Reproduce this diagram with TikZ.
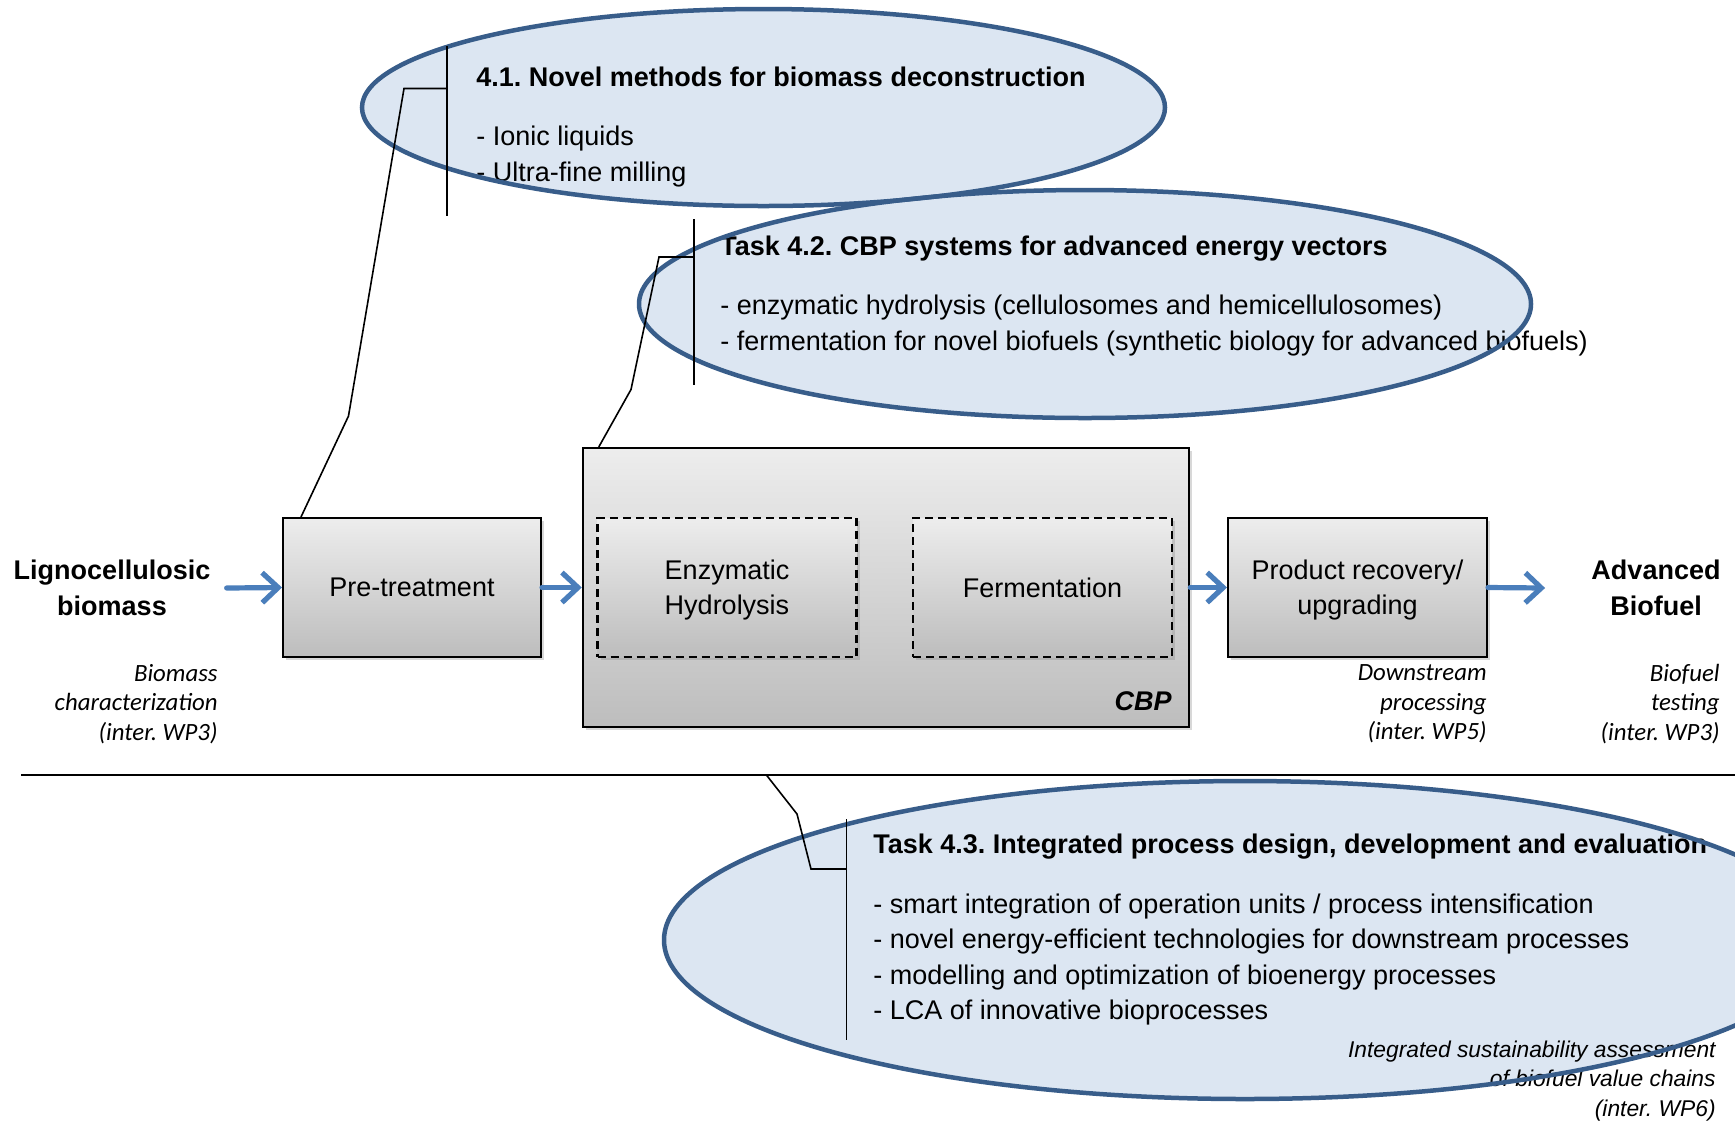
\documentclass[tikz,border=0pt]{standalone}
\usepackage{fontspec}
\setmainfont{Liberation Sans}
\newfontfamily\carl{Carlito}
\usetikzlibrary{arrows.meta,shadows}
\definecolor{ellfill}{HTML}{DCE6F2}
\definecolor{ellline}{HTML}{385D8A}
\definecolor{arrblue}{HTML}{4A7EBB}
\definecolor{boxtop}{HTML}{EDEDED}
\definecolor{boxbot}{HTML}{BDBDBD}
\begin{document}
\frenchspacing
\begin{tikzpicture}[x=0.5pt,y=-0.5pt,
  txt/.style={font=\fontsize{13.5}{17.7}\selectfont, inner sep=0pt},
  ttl/.style={inner sep=0pt, font=\fontsize{13.5}{17.7}\selectfont\bfseries, anchor=base west},
  item/.style={txt, anchor=base west},
  endpt/.style={inner sep=0pt, font=\fontsize{13.5}{17.7}\selectfont\bfseries, align=center},
  note/.style={font=\carl\itshape\fontsize{12.4}{14.75}\selectfont, inner sep=0pt, align=right, anchor=east},
  notewide/.style={font=\itshape\fontsize{11.4}{14.75}\selectfont, inner sep=0pt, align=right, anchor=east},
  procbox/.style={txt, draw=black, line width=1pt, top color=boxtop, bottom color=boxbot,
    drop shadow={opacity=0.3, shadow xshift=1.5pt, shadow yshift=-1.5pt}, align=center, text depth=0pt},
  subbox/.style={procbox, line width=1.1pt, dash pattern=on 4pt off 2.5pt},
  arr/.style={draw=arrblue, line width=2.6pt, -{Straight Barb[length=8pt,width=15pt]}, line cap=round},
  callout/.style={draw=black, line width=0.8pt},
  ellf/.style={fill=ellfill},
  elld/.style={draw=ellline, line width=2.25pt}
]
\useasboundingbox (0,0) rectangle (1735,1121);
\fill[white] (0,0) rectangle (1735,1121);
\clip (0,0) rectangle (1735,1121);

% ellipse fills
\fill[ellf] (763.5,107.5) ellipse [x radius=401.5, y radius=98.5];
\fill[ellf] (1085,304) ellipse [x radius=446, y radius=114];
\fill[ellf] (1245,940) ellipse [x radius=581, y radius=159];

% ellipse texts
\node[ttl] (t41) at (476,86) {4.1. Novel methods for biomass deconstruction};
\node[item] (t41a) at (476,145) {- Ionic liquids};
\node[item] (t41b) at (476,181) {- Ultra-fine milling};

\node[ttl] (t42) at (720,255) {Task 4.2. CBP systems for advanced energy vectors};
\node[item] (t42a) at (720,314) {- enzymatic hydrolysis (cellulosomes and hemicellulosomes)};
\node[item] (t42b) at (720,350) {- fermentation for novel biofuels (synthetic biology for advanced biofuels)};

\node[ttl] (t43) at (873,853) {Task 4.3. Integrated process design, development and evaluation};
\node[item] (t43a) at (873,913) {- smart integration of operation units / process intensification};
\node[item] (t43b) at (873,948) {- novel energy-efficient technologies for downstream processes};
\node[item] (t43c) at (873,984) {- modelling and optimization of bioenergy processes};
\node[item] (t43d) at (873,1019) {- LCA of innovative bioprocesses};
\node[notewide] (isa) at (1716,1081) {Integrated sustainability assessment\\of biofuel value chains\\(inter. WP6)};

% ellipse borders
\draw[elld] (763.5,107.5) ellipse [x radius=401.5, y radius=98.5];
\draw[elld] (1085,304) ellipse [x radius=446, y radius=114];
\draw[elld] (1245,940) ellipse [x radius=581, y radius=159];

% process chain
\node[endpt] (lig) at (112,588) {Lignocellulosic\\biomass};
\node[procbox, minimum width=129pt, minimum height=69.5pt] (pre) at (412,587.5) {Pre-treatment};
\node[procbox, minimum width=303.25pt, minimum height=139.5pt] (cbp) at (886,587.5) {};
\node[subbox, minimum width=129.5pt, minimum height=69.5pt] (enz) at (727,587.5) {Enzymatic\\Hydrolysis};
\node[subbox, minimum width=129.5pt, minimum height=69.5pt] (fer) at (1042.5,587.5) {Fermentation};
\node[txt, font=\fontsize{13.5}{17.7}\selectfont\bfseries\itshape, anchor=base east] (cbplbl) at (1172,710) {CBP};
\node[procbox, minimum width=129.5pt, minimum height=69.5pt] (prod) at (1357.5,587.5) {Product recovery/\\upgrading};
\node[endpt] (adv) at (1656,588) {Advanced\\Biofuel};

\node[note] (bchar) at (218,704) {Biomass\\characterization\\(inter. WP3)};
\node[note] (dproc) at (1487,704) {Downstream\\processing\\(inter. WP5)};
\node[note] (btest) at (1720,704) {Biofuel\\testing\\(inter. WP3)};

\draw[arr] ([xshift=8pt]lig.east) -- (pre.west);
\draw[arr] (pre.east) -- (cbp.west);
\draw[arr] (cbp.east) -- (prod.west);
\draw[arr] (prod.east) -- ([xshift=-23pt]adv.west);

% separator
\coordinate (sepL) at (21,774.5);
\coordinate (sepR) at (1735,774.5);
\draw[line width=1pt] (sepL) -- (sepR);

% callouts
\coordinate (k1a) at (348.5,416);
\coordinate (k1b) at (404,88.5);
\coordinate (k1c) at (447,88.5);
\coordinate (b1t) at (447,46);
\coordinate (b1b) at (447,216);
\draw[callout] ([xshift=9.5pt]pre.north west) -- (k1a) -- (k1b) -- (k1c);
\draw[callout] (b1t) -- (b1b);

\coordinate (k2a) at (631,389.5);
\coordinate (k2b) at (659,257);
\coordinate (k2c) at (694,257);
\coordinate (b2t) at (694,219);
\coordinate (b2b) at (694,385);
\draw[callout] ([xshift=8.5pt]cbp.north west) -- (k2a) -- (k2b) -- (k2c);
\draw[callout] (b2t) -- (b2b);

\coordinate (k3s) at (766,774.5);
\coordinate (k3a) at (797,814);
\coordinate (k3b) at (811,869);
\coordinate (k3c) at (846.5,869);
\coordinate (b3t) at (846.5,819);
\coordinate (b3b) at (846.5,1040);
\draw[callout] (k3s) -- (k3a) -- (k3b) -- (k3c);
\draw[callout] (b3t) -- (b3b);
\end{tikzpicture}
\end{document}
